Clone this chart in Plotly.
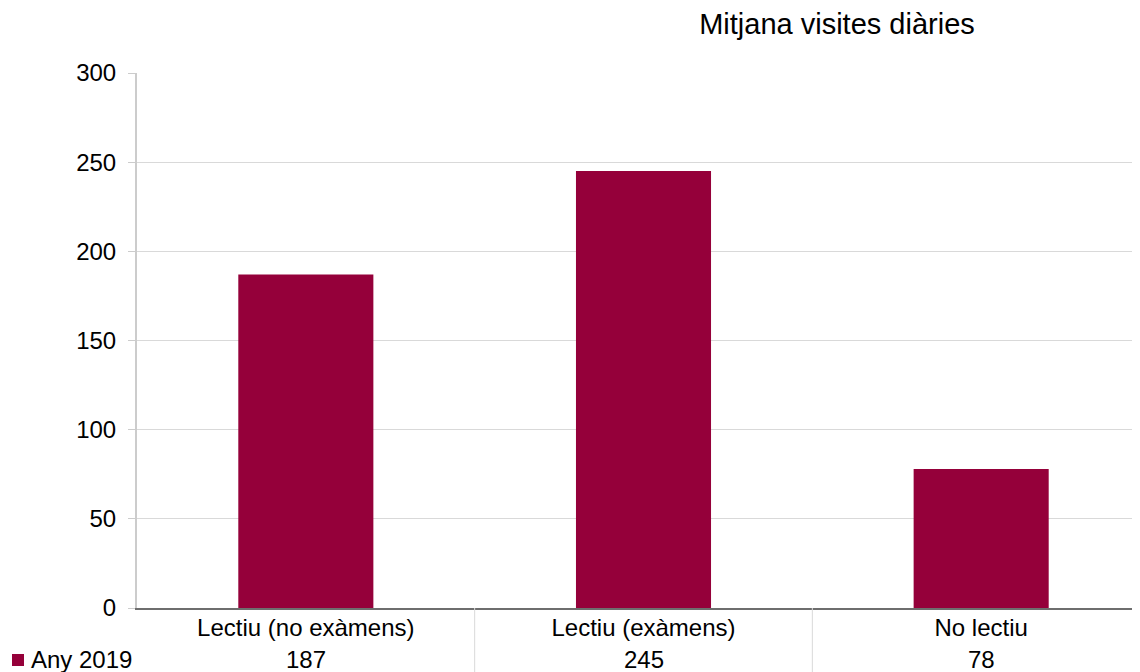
import plotly.graph_objects as go

categories = ["Lectiu (no exàmens)", "Lectiu (exàmens)", "No lectiu"]
values_2019 = [187, 245, 78]
series_name = "Any 2019"
title_text = "Mitjana visites diàries"

BAR_COLOR = "#95003A"
FONT = "Liberation Sans, Arial, sans-serif"

# page body has an 8px margin; compensate so the plot lands where the reference has it
# (the reference plot area runs slightly past the right edge of the picture)
W, H = 1142, 672
L, R, T, B = 129, 0, 65, 72
PW = W - L - R
PH = H - T - B


def px_x(p):  # paper-pixel x -> paper fraction
    return (p - L) / PW


def px_y(p):  # paper-pixel y -> paper fraction
    return (H - B - p) / PH


fig = go.Figure()
fig.add_trace(go.Bar(
    x=list(range(len(categories))), y=values_2019, name=series_name,
    marker=dict(color=BAR_COLOR, line=dict(width=0)), width=0.4,
    showlegend=False,
))

# data-table value row
for i, v in enumerate(values_2019):
    fig.add_annotation(x=i, xref="x", y=px_y(651), yref="paper", text=str(v),
                       showarrow=False, font=dict(size=24, color="#000", family=FONT),
                       xanchor="center", yanchor="middle")

# data-table column separators
for i in range(1, len(categories)):
    fig.add_shape(type="line", xref="x", yref="paper", x0=i - 0.5, x1=i - 0.5,
                  y0=0, y1=-0.2, line=dict(color="#d9d9d9", width=1))

# legend key of the data table (swatch + series name)
fig.add_shape(type="rect", xref="paper", yref="paper",
              x0=px_x(4), x1=px_x(16), y0=px_y(658), y1=px_y(646),
              fillcolor=BAR_COLOR, line=dict(width=0))
fig.add_annotation(x=px_x(21), xref="paper", y=px_y(651.5), yref="paper",
                   text=series_name, showarrow=False, xanchor="left", yanchor="middle",
                   font=dict(size=24, color="#000", family=FONT))

fig.update_layout(
    width=W, height=H,
    margin=dict(l=L, r=R, t=T, b=B, autoexpand=False),
    paper_bgcolor="white", plot_bgcolor="white",
    font=dict(family=FONT, size=24, color="#000"),
    title=dict(text=title_text, x=px_x(829), xref="paper", xanchor="center",
               y=1 - 16 / H, yref="container", yanchor="middle",
               font=dict(size=29, color="#000", family=FONT)),
    showlegend=False,
    bargap=0.6,
)
fig.update_xaxes(
    tickmode="array", tickvals=list(range(len(categories))), ticktext=categories,
    range=[-0.5, len(categories) - 0.5],
    showline=True, linecolor="#6e6e6e", linewidth=2, ticks="", showgrid=False,
    ticklabelstandoff=-3,
    tickfont=dict(size=24, color="#000"), zeroline=False,
)
fig.update_yaxes(
    range=[0, 300], dtick=50, showgrid=True, gridcolor="#d9d9d9", gridwidth=1,
    showline=True, linecolor="#cccccc", linewidth=2, ticks="outside", ticklen=7,
    tickcolor="#cccccc", tickwidth=1, ticklabelstandoff=7,
    tickfont=dict(size=24, color="#000"), zeroline=False,
)
fig.write_html("out.html")
